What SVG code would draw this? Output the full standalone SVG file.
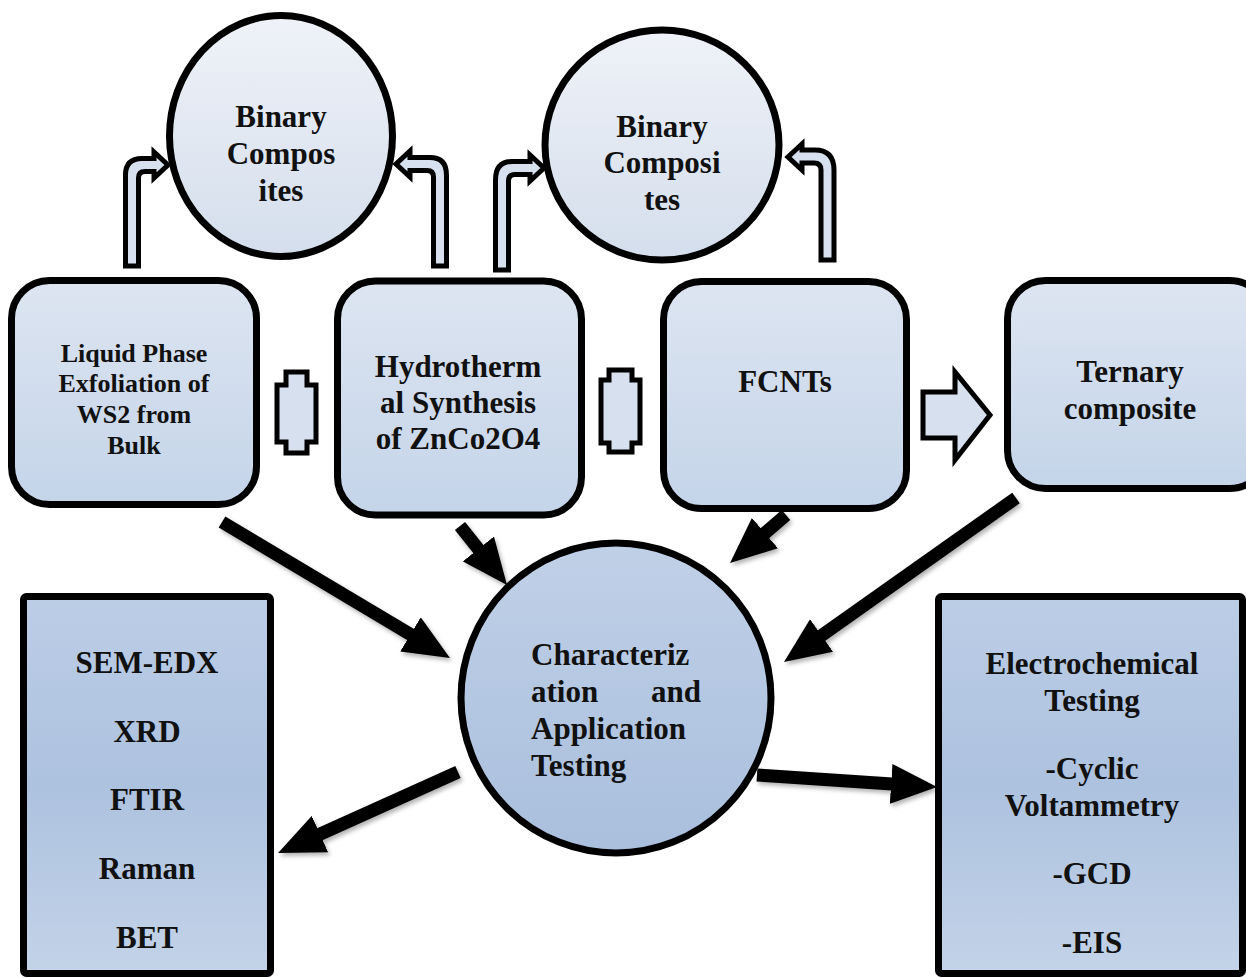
<svg xmlns="http://www.w3.org/2000/svg" width="1246" height="978" viewBox="0 0 1246 978">
<style>
  .t { font-family: "Liberation Serif", "Times New Roman", serif; font-weight: bold; font-size: 31px; fill: #111; text-anchor: middle; }
  .ts { font-size: 26px; }
  .tl { text-anchor: start; }
  .te { text-anchor: end; }
  .box { fill: url(#gBox); stroke: #000; stroke-width: 7; }
  .small { fill: url(#gSmall); stroke: #000; stroke-width: 7; }
  .big { fill: url(#gBig); stroke: #000; stroke-width: 7; }
  .rect { fill: url(#gRect); stroke: #000; stroke-width: 7; }
  .hollow { fill: #d6e0ee; stroke: #000; stroke-width: 5; stroke-linejoin: miter; }
  .arrow { stroke: #000; stroke-width: 13; fill: none; marker-end: url(#head); }
</style>
<defs>
  <linearGradient id="gBox" x1="0" y1="0" x2="0" y2="1">
    <stop offset="0" stop-color="#dde5f1"/>
    <stop offset="1" stop-color="#c4d4e9"/>
  </linearGradient>
  <linearGradient id="gSmall" x1="0" y1="0" x2="0" y2="1">
    <stop offset="0" stop-color="#eff2f8"/>
    <stop offset="1" stop-color="#d4deec"/>
  </linearGradient>
  <linearGradient id="gBig" x1="0" y1="0" x2="0" y2="1">
    <stop offset="0" stop-color="#c0d0e7"/>
    <stop offset="1" stop-color="#a9bfdd"/>
  </linearGradient>
  <linearGradient id="gRect" x1="0" y1="0" x2="0" y2="1">
    <stop offset="0" stop-color="#bccde6"/>
    <stop offset="0.5" stop-color="#adc2df"/>
    <stop offset="1" stop-color="#c3d3e8"/>
  </linearGradient>
  <marker id="head" markerUnits="userSpaceOnUse" markerWidth="46" markerHeight="40" viewBox="0 0 46 40" refX="16" refY="20" orient="auto">
    <path d="M0,0 L46,20 L0,40 Z" fill="#000"/>
  </marker>
  <filter id="shadow" x="-20%" y="-20%" width="140%" height="140%">
    <feDropShadow dx="2" dy="3" stdDeviation="2" flood-color="#000" flood-opacity="0.3"/>
  </filter>
</defs>

<g id="connectors">
  <g id="bent-arrows">
    <path class="hollow" d="M125.5,266 V175 Q125.5,158.5 142,158.5 H154 V152 L168,165 L154,178 V171.5 H145 Q138.5,171.5 138.5,178 V266 Z"/>
    <path class="hollow" d="M446.5,266 V175 Q446.5,157.5 430,157.5 H410 V151 L396,164 L410,177 V170.5 H427 Q433.5,170.5 433.5,177 V266 Z"/>
    <path class="hollow" d="M495.5,270 V180 Q495.5,161.5 512,161.5 H530 V155 L544,168 L530,181 V174.5 H515 Q508.5,174.5 508.5,181 V270 Z"/>
    <path class="hollow" d="M834,260 V170 Q834,150 815,150 H802 V144 L788,157 L802,170 V163 H814 Q821,163 821,170 V260 Z"/>
  </g>
  <g id="double-arrows">
    <path class="hollow" d="M286,372 H307 V385 H316 V442 H307 V453 H286 V442 H277 V385 H286 Z"/>
    <path class="hollow" d="M609,370 H632 V380 H640 V443 H632 V452 H609 V443 H601 V380 H609 Z"/>
  </g>
  <path id="block-arrow" class="hollow" d="M923,392 H955 V372 L990,415 L955,460 V438 H923 Z"/>
  <g id="black-arrows" filter="url(#shadow)">
    <line class="arrow" x1="222" y1="522" x2="424.2" y2="642.6"/>
    <line class="arrow" x1="460" y1="526" x2="488.3" y2="561.5"/>
    <line class="arrow" x1="786" y1="515" x2="752.8" y2="543.5"/>
    <line class="arrow" x1="1016" y1="498" x2="808.5" y2="644.7"/>
    <line class="arrow" x1="458" y1="772" x2="305.4" y2="840.7"/>
    <line class="arrow" x1="757" y1="775" x2="907.1" y2="785"/>
  </g>
</g>

<g id="binary1">
  <ellipse class="small" cx="281" cy="136" rx="111.5" ry="120.5"/>
  <text class="t" x="281" y="127">Binary</text>
  <text class="t" x="281" y="164">Compos</text>
  <text class="t" x="281" y="201">ites</text>
</g>
<g id="binary2">
  <ellipse class="small" cx="662" cy="145" rx="117" ry="115"/>
  <text class="t" x="662" y="137">Binary</text>
  <text class="t" x="662" y="173">Composi</text>
  <text class="t" x="662" y="210">tes</text>
</g>

<g id="lpe">
  <rect class="box" x="11.5" y="280.5" width="245" height="224" rx="38"/>
  <text class="t ts" x="134" y="362">Liquid Phase</text>
  <text class="t ts" x="134" y="392">Exfoliation of</text>
  <text class="t ts" x="134" y="423">WS2 from</text>
  <text class="t ts" x="134" y="454">Bulk</text>
</g>
<g id="hydro">
  <rect class="box" x="337.5" y="281" width="244" height="234" rx="38"/>
  <text class="t" x="458" y="377">Hydrotherm</text>
  <text class="t" x="458" y="413">al Synthesis</text>
  <text class="t" x="458" y="449">of ZnCo2O4</text>
</g>
<g id="fcnts">
  <rect class="box" x="663.5" y="281.5" width="243" height="227" rx="38"/>
  <text class="t" x="785" y="392">FCNTs</text>
</g>
<g id="ternary">
  <rect class="box" x="1007.5" y="280.5" width="260" height="208" rx="38"/>
  <text class="t" x="1130" y="382">Ternary</text>
  <text class="t" x="1130" y="419">composite</text>
</g>

<g id="characterization">
  <circle class="big" cx="616" cy="698" r="155"/>
  <text class="t tl" x="531" y="665">Characteriz</text>
  <text class="t tl" x="531" y="702">ation</text>
  <text class="t te" x="701" y="702">and</text>
  <text class="t tl" x="531" y="739">Application</text>
  <text class="t tl" x="531" y="776">Testing</text>
</g>

<g id="techniques">
  <rect class="rect" x="23.5" y="596.5" width="247" height="377" rx="3"/>
  <text class="t" x="147" y="673">SEM-EDX</text>
  <text class="t" x="147" y="742">XRD</text>
  <text class="t" x="147" y="810">FTIR</text>
  <text class="t" x="147" y="879">Raman</text>
  <text class="t" x="147" y="948">BET</text>
</g>
<g id="electrochem">
  <rect class="rect" x="938.5" y="596.5" width="304" height="377" rx="3"/>
  <text class="t" x="1092" y="674">Electrochemical</text>
  <text class="t" x="1092" y="711">Testing</text>
  <text class="t" x="1092" y="779">-Cyclic</text>
  <text class="t" x="1092" y="816">Voltammetry</text>
  <text class="t" x="1092" y="884">-GCD</text>
  <text class="t" x="1092" y="953">-EIS</text>
</g>
</svg>
